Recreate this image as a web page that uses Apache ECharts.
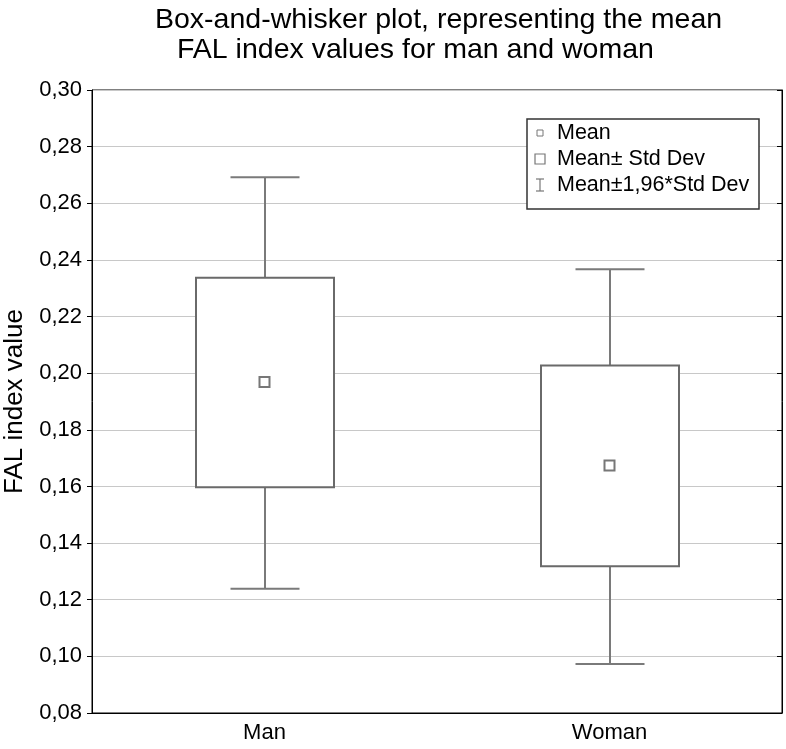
<!DOCTYPE html>
<html>
<head>
<meta charset="utf-8">
<script src="https://cdn.jsdelivr.net/npm/echarts@6/dist/echarts.min.js"></script>
<style>
html,body{margin:0;padding:0;background:#fff;}
#chart{width:786px;height:749px;}
</style>
</head>
<body>
<div id="chart"></div>
<script>
// ---- data ----
const categories = ['Man', 'Woman'];
const meanValues = [0.1969, 0.1674];
const boxLow = [0.1597, 0.1318];      // Mean - Std Dev
const boxHigh = [0.2337, 0.2027];     // Mean + Std Dev
const whiskerLow = [0.1239, 0.0973];  // Mean - 1.96*Std Dev
const whiskerHigh = [0.2692, 0.2367]; // Mean + 1.96*Std Dev
const yMin = 0.08, yMax = 0.30, yStep = 0.02;
const titleLines = ['Box-and-whisker plot, representing the mean', 'FAL index values for man and woman'];
const legendItems = ['Mean', 'Mean\u00b1 Std Dev', 'Mean\u00b11,96*Std Dev'];

const FONT = '"Liberation Sans", Arial, Helvetica, sans-serif';
const chart = echarts.init(document.getElementById('chart'), null, {renderer: 'canvas'});

const boxData = categories.map((c, i) => [i, boxLow[i], boxHigh[i], whiskerLow[i], whiskerHigh[i]]);

function renderBox(params, api) {
  const i = api.value(0);
  const lo = api.coord([i, api.value(1)]);
  const hi = api.coord([i, api.value(2)]);
  const wl = api.coord([i, api.value(3)]);
  const wh = api.coord([i, api.value(4)]);
  const band = api.size([1, 0])[0];
  const bw = band * 0.4, cw = band * 0.2;
  const x = Math.round(lo[0]);
  const wStyle = {stroke: '#7a7a7a', lineWidth: 2};
  return {
    type: 'group',
    children: [
      {type: 'line', shape: {x1: x, y1: wh[1], x2: x, y2: hi[1]}, style: wStyle},
      {type: 'line', shape: {x1: x, y1: lo[1], x2: x, y2: wl[1]}, style: wStyle},
      {type: 'line', shape: {x1: x - cw / 2, y1: wh[1], x2: x + cw / 2, y2: wh[1]}, style: wStyle},
      {type: 'line', shape: {x1: x - cw / 2, y1: wl[1], x2: x + cw / 2, y2: wl[1]}, style: wStyle},
      {type: 'rect', shape: {x: x - bw / 2, y: hi[1], width: bw, height: lo[1] - hi[1]},
        style: {fill: '#fff', stroke: '#6a6a6a', lineWidth: 2}}
    ]
  };
}

const fmt = v => v.toFixed(2).replace('.', ',');

// legend (drawn as graphic)
const LX = 527, LY = 119, LW = 232, LH = 90;
const rowY = [133, 159, 185];
const legendGraphic = [
  {type: 'rect', shape: {x: LX, y: LY, width: LW, height: LH}, style: {fill: '#fff', stroke: '#333', lineWidth: 1.5}, z: 100},
  {type: 'rect', shape: {x: 537, y: rowY[0] - 3, width: 6, height: 6}, style: {fill: '#fff', stroke: '#777', lineWidth: 1}, z: 101},
  {type: 'rect', shape: {x: 535, y: rowY[1] - 5, width: 10, height: 10}, style: {fill: '#fff', stroke: '#777', lineWidth: 1.2}, z: 101},
  {type: 'line', shape: {x1: 540, y1: rowY[2] - 6, x2: 540, y2: rowY[2] + 6}, style: {stroke: '#777', lineWidth: 1.2}, z: 101},
  {type: 'line', shape: {x1: 536, y1: rowY[2] - 6, x2: 544, y2: rowY[2] - 6}, style: {stroke: '#777', lineWidth: 1.2}, z: 101},
  {type: 'line', shape: {x1: 536, y1: rowY[2] + 6, x2: 544, y2: rowY[2] + 6}, style: {stroke: '#777', lineWidth: 1.2}, z: 101}
];
legendItems.forEach((t, k) => {
  legendGraphic.push({type: 'text', x: 557, y: rowY[k], z: 101,
    style: {text: t, fill: '#000', font: '21.5px ' + FONT, textVerticalAlign: 'middle', textAlign: 'left'}});
});

const option = {
  backgroundColor: '#fff',
  animation: false,
  title: [
    {text: titleLines[0], left: 150, top: 1, textStyle: {fontSize: 28.5, fontWeight: 'normal', color: '#000', fontFamily: FONT}},
    {text: titleLines[1], left: 172, top: 31, textStyle: {fontSize: 28.5, fontWeight: 'normal', color: '#000', fontFamily: FONT}}
  ],
  grid: {left: 92, right: 4, top: 90, bottom: 36, show: true, borderColor: '#000', borderWidth: 1,
    backgroundColor: 'transparent', containLabel: false, outerBoundsMode: 'none'},
  xAxis: {
    type: 'category', data: categories, boundaryGap: true,
    axisLine: {lineStyle: {color: '#000', width: 1}},
    axisTick: {inside: true, alignWithLabel: true, length: 5, lineStyle: {color: '#000'}},
    axisLabel: {color: '#000', fontSize: 22, fontFamily: FONT, margin: 9},
    splitLine: {show: false}
  },
  yAxis: [{
    type: 'value', min: yMin, max: yMax, interval: yStep,
    name: 'FAL index value', nameLocation: 'middle', nameGap: 61,
    nameTextStyle: {fontSize: 26, color: '#000', fontFamily: FONT},
    axisLine: {show: true, lineStyle: {color: '#000', width: 1}},
    axisTick: {show: true, length: 5, lineStyle: {color: '#000'}},
    axisLabel: {color: '#000', fontSize: 22, fontFamily: FONT, margin: 10, formatter: fmt},
    splitLine: {show: true, lineStyle: {color: '#c8c8c8', width: 1}}
  }, {
    type: 'value', min: yMin, max: yMax, interval: yStep, position: 'right',
    axisLine: {show: true, lineStyle: {color: '#000', width: 1}},
    axisTick: {show: true, inside: true, length: 5, lineStyle: {color: '#000'}},
    axisLabel: {show: false}, splitLine: {show: false}
  }],
  series: [
    {type: 'custom', name: 'Box', renderItem: renderBox, data: boxData, encode: {x: 0, y: [1, 2, 3, 4]}, z: 2},
    {type: 'scatter', name: 'Mean', data: meanValues, symbol: 'rect', symbolSize: 10,
      itemStyle: {color: '#fff', borderColor: '#777', borderWidth: 2, opacity: 1}, z: 5}
  ],
  graphic: legendGraphic
};
chart.setOption(option);
</script>
</body>
</html>
